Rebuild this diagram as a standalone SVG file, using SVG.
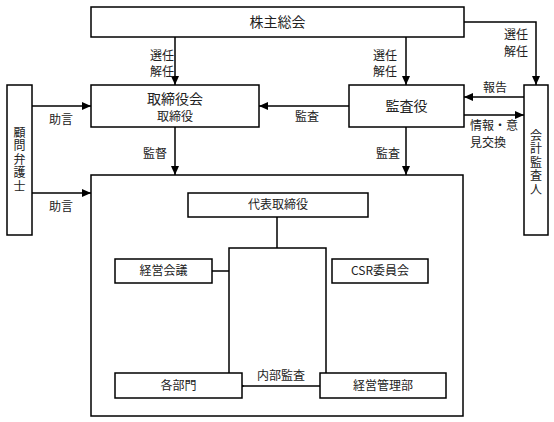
<svg xmlns="http://www.w3.org/2000/svg" width="554" height="422" viewBox="0 0 554 422">
<style>
.b{fill:#fff;stroke:#000;stroke-width:1.5}
.l{fill:none;stroke:#000;stroke-width:1.5}
text{font-family:"Noto Sans CJK JP","Liberation Sans",sans-serif;fill:#222;font-size:12px}
.c{text-anchor:middle}
.big{font-size:14px}
.v{writing-mode:vertical-rl;letter-spacing:1.5px}
</style>
<defs>
<marker id="a" markerWidth="10" markerHeight="10" refX="9" refY="5" orient="auto" markerUnits="userSpaceOnUse"><path d="M0,1 L9,5 L0,9 Z" fill="#000"/></marker>
<marker id="o" markerWidth="12" markerHeight="12" refX="1" refY="6" orient="auto" markerUnits="userSpaceOnUse"><path d="M10,1 L1,6 L10,11" fill="none" stroke="#000" stroke-width="1.5"/></marker>
</defs>
<g id="connectors">
<path class="l" d="M175,37 V85" marker-end="url(#a)"/>
<path class="l" d="M406,37 V85" marker-end="url(#a)"/>
<path class="l" d="M464,22 H536 V85" marker-end="url(#a)"/>
<path class="l" d="M524,97 H464" marker-end="url(#a)"/>
<path class="l" d="M464,115 H524" marker-end="url(#a)"/>
<path class="l" d="M349,106 H259" marker-end="url(#a)"/>
<path class="l" d="M32,106 H91" marker-end="url(#a)"/>
<path class="l" d="M32,193 H91" marker-end="url(#a)"/>
<path class="l" d="M175,127 V175" marker-end="url(#a)"/>
<path class="l" d="M406,127 V175" marker-end="url(#a)"/>
<path class="l" d="M277,217 V248 M229,373 V248 H326 V373 M212,271 H229"/>
<path class="l" d="M320,386 H243" marker-end="url(#o)"/>
<text x="150" y="60">選任<tspan x="150" dy="16">解任</tspan></text>
<text x="373" y="60">選任<tspan x="373" dy="16">解任</tspan></text>
<text x="504" y="39">選任<tspan x="504" dy="16.5">解任</tspan></text>
<text x="483" y="92">報告</text>
<text x="470" y="130">情報・意<tspan x="470" dy="16.5">見交換</tspan></text>
<text x="295" y="121">監査</text>
<text x="49" y="124">助言</text>
<text x="49" y="211">助言</text>
<text x="143" y="158">監督</text>
<text x="376" y="158">監査</text>
<text x="257" y="380">内部監査</text>
</g>
<g id="kabunushi"><rect class="b" x="91" y="7" width="373" height="30"/><text class="c big" x="277.5" y="27">株主総会</text></g>
<g id="torishimariyakukai"><rect class="b" x="91" y="85" width="168" height="42"/><text class="c big" x="175" y="104">取締役会</text><text class="c" x="175" y="121">取締役</text></g>
<g id="kansayaku"><rect class="b" x="349" y="85" width="115" height="42"/><text class="c big" x="406.5" y="111">監査役</text></g>
<g id="komon"><rect class="b" x="7" y="85" width="25" height="150"/><text class="v" x="19.5" y="126">顧問弁護士</text></g>
<g id="kaikei"><rect class="b" x="524" y="85" width="24" height="150"/><text class="v" x="536" y="129">会計監査人</text></g>
<g id="company"><rect x="91" y="175" width="372" height="241" fill="none" stroke="#000" stroke-width="1.5"/></g>
<g id="daihyo"><rect class="b" x="188" y="193" width="180" height="24"/><text class="c" x="278" y="209">代表取締役</text></g>
<g id="keiei-kaigi"><rect class="b" x="115" y="259" width="97" height="24"/><text class="c" x="163.5" y="275">経営会議</text></g>
<g id="csr"><rect class="b" x="332" y="259" width="96" height="24"/><text class="c" x="380" y="275">CSR委員会</text></g>
<g id="kakubumon"><rect class="b" x="115" y="373" width="127" height="25"/><text class="c" x="178.5" y="390">各部門</text></g>
<g id="keiei-kanri"><rect class="b" x="320" y="373" width="126" height="25"/><text class="c" x="383" y="390">経営管理部</text></g>
</svg>
